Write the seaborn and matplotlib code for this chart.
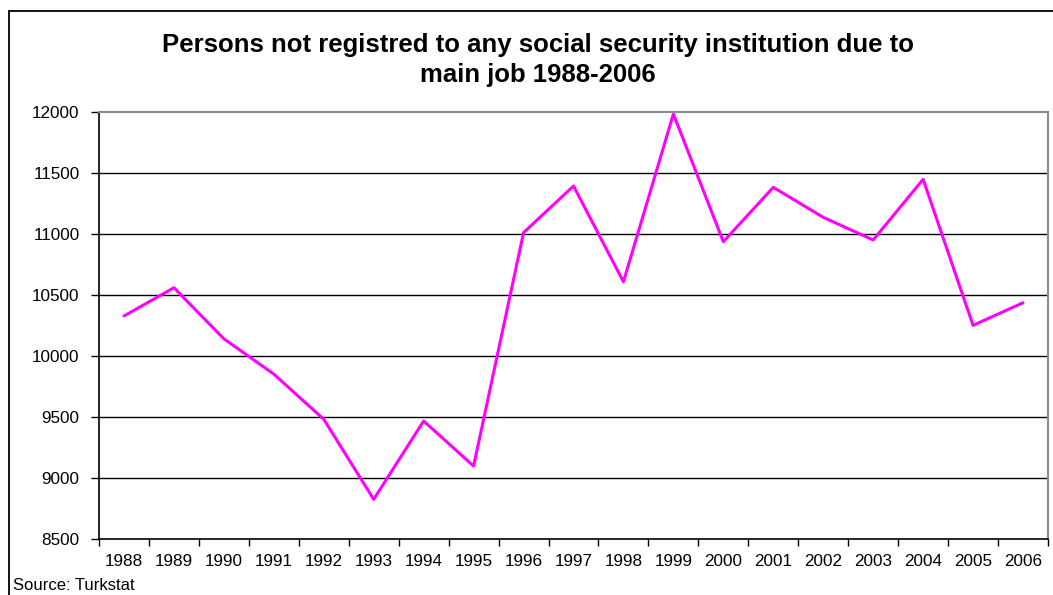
import numpy as np
import pandas as pd
import matplotlib
matplotlib.use("Agg")
import matplotlib.pyplot as plt
from matplotlib.lines import Line2D
import seaborn as sns

years = ["1988", "1989", "1990", "1991", "1992", "1993", "1994", "1995", "1996", "1997",
         "1998", "1999", "2000", "2001", "2002", "2003", "2004", "2005", "2006"]
persons = [10328, 10560, 10141, 9851, 9480, 8823, 9466, 9096, 11012, 11395,
           10609, 11986, 10938, 11384, 11138, 10952, 11450, 10251, 10437]
y_ticks = [8500, 9000, 9500, 10000, 10500, 11000, 11500, 12000]

title = "Persons not registred to any social security institution due to\nmain job 1988-2006"
source = "Source: Turkstat"

sns.set_theme(style="white")
plt.rcParams['font.family'] = ['Liberation Sans', 'DejaVu Sans']
plt.rcParams['text.color'] = 'black'

fig = plt.figure(figsize=(10.53, 5.95), dpi=100)
ax = fig.add_axes([99 / 1053, 1 - 538.7 / 595, (1048 - 99) / 1053, (538.7 - 112.3) / 595])

df = pd.DataFrame({"pos": np.arange(len(years)), "value": persons})
sns.lineplot(data=df, x="pos", y="value", ax=ax, color="#FF00FF", linewidth=2.2)

ax.set_xlim(-0.5, len(years) - 0.5)
ax.set_ylim(y_ticks[0], y_ticks[-1])
ax.set_yticks(y_ticks)
ax.set_yticklabels([str(v) for v in y_ticks], fontsize=12.3, color="black")
ax.set_xticks(np.arange(-0.5, len(years), 1.0))
ax.set_xticklabels([])
ax.set_xticks(np.arange(len(years)), minor=True)
ax.set_xticklabels(years, minor=True, fontsize=12.3, color="black")
ax.tick_params(axis="x", which="major", direction="out", length=5, width=1, color="black", bottom=True)
ax.tick_params(axis="x", which="minor", length=0, pad=11, bottom=True)
ax.tick_params(axis="y", direction="out", length=6, width=1, color="black", left=True, pad=8)
ax.set_xlabel("")
ax.set_ylabel("")

for v in y_ticks[1:-1]:
    ax.axhline(v, color="black", linewidth=1.0, zorder=0)

ax.spines["left"].set_color("black")
ax.spines["bottom"].set_color("black")
ax.spines["left"].set_linewidth(1.2)
ax.spines["bottom"].set_linewidth(1.2)
ax.spines["top"].set_color("#8c8c8c")
ax.spines["right"].set_color("#8c8c8c")
ax.spines["top"].set_linewidth(1.5)
ax.spines["right"].set_linewidth(1.5)
ax.grid(False)

fig.text(538 / 1053, 1 - 60 / 595, title, ha="center", va="center", fontsize=18.5,
         fontweight="bold", linespacing=1.3, color="black")
fig.text(13 / 1053, 1 - 586 / 595, source, ha="left", va="center", fontsize=12, color="black")

# outer chart frame
fig.add_artist(Line2D([8.5 / 1053, 8.5 / 1053], [0, 1 - 11 / 595], transform=fig.transFigure,
                      color="black", linewidth=1.3))
fig.add_artist(Line2D([8.5 / 1053, 1], [1 - 11 / 595, 1 - 11 / 595], transform=fig.transFigure,
                      color="black", linewidth=1.3))

fig.savefig("out.png", dpi=100)
